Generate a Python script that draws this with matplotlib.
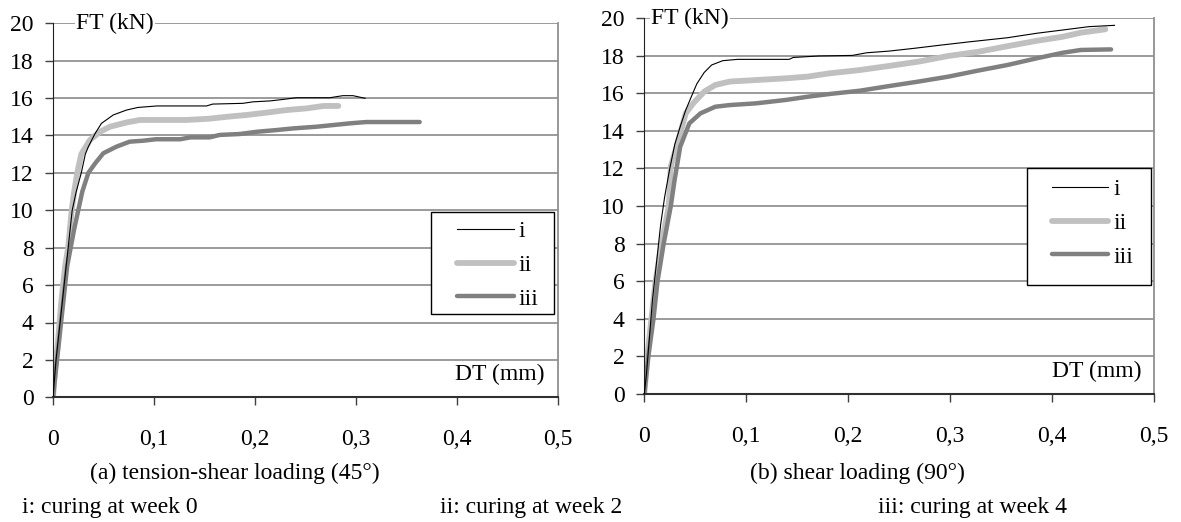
import matplotlib
matplotlib.use('Agg')

import matplotlib.pyplot as plt
from matplotlib.patches import Rectangle

plt.rcParams['font.family'] = ['Liberation Serif', 'DejaVu Serif']

# (a) tension-shear loading (45°)
a_i_x = [0, 0.003, 0.007, 0.011, 0.015, 0.019, 0.023, 0.028, 0.032, 0.035, 0.0416, 0.048, 0.0597,
         0.0727, 0.084, 0.103, 0.152, 0.158, 0.188, 0.198, 0.215, 0.228, 0.241, 0.274, 0.287, 0.297, 0.309]
a_i_y = [0, 2, 4, 6, 8, 10, 11, 12, 13, 13.4, 14.1, 14.65, 15.1,
         15.36, 15.5, 15.58, 15.58, 15.68, 15.72, 15.8, 15.85, 15.93, 16.02, 16.02, 16.13, 16.13, 15.99]
a_ii_x = [0, 0.002, 0.005, 0.008, 0.012, 0.015, 0.0185, 0.021, 0.024, 0.028, 0.0366, 0.0465, 0.0564,
          0.073, 0.086, 0.103, 0.132, 0.155, 0.172, 0.192, 0.211, 0.231, 0.251, 0.268, 0.2825]
a_ii_y = [0, 1.5, 3, 5, 7, 8, 10, 11, 12, 13, 13.76, 14.2, 14.47,
          14.7, 14.83, 14.83, 14.83, 14.9, 15.0, 15.1, 15.22, 15.36, 15.45, 15.58, 15.58]
a_iii_x = [0, 0.003, 0.006, 0.01, 0.014, 0.0175, 0.021, 0.025, 0.029, 0.035, 0.0416, 0.0498, 0.0627,
           0.0759, 0.089, 0.102, 0.126, 0.136, 0.155, 0.165, 0.185, 0.202, 0.221, 0.238, 0.261,
           0.2776, 0.294, 0.310, 0.344, 0.363]
a_iii_y = [0, 1.5, 3, 5, 7, 8, 9, 10, 11, 12, 12.5, 13.05, 13.4,
           13.67, 13.72, 13.8, 13.8, 13.9, 13.9, 14.03, 14.08, 14.2, 14.29, 14.38, 14.47,
           14.56, 14.65, 14.72, 14.72, 14.72]

# (b) shear loading (90°)
b_i_x = [0, 0.002, 0.005, 0.008, 0.012, 0.016, 0.020, 0.025, 0.030, 0.0352, 0.0406, 0.046, 0.0515,
         0.0587, 0.066, 0.0769, 0.0914, 0.142, 0.146, 0.171, 0.204, 0.218, 0.240, 0.265, 0.291,
         0.320, 0.356, 0.385, 0.410, 0.436, 0.461]
b_i_y = [0, 1, 3, 5, 7, 9, 10.5, 12, 13.3, 14.22, 15.1, 15.8, 16.5,
         17.1, 17.5, 17.73, 17.8, 17.8, 17.9, 17.98, 18.01, 18.15, 18.24, 18.39, 18.56,
         18.74, 18.95, 19.19, 19.36, 19.54, 19.61]
b_ii_x = [0, 0.003, 0.007, 0.011, 0.017, 0.024, 0.026, 0.0334, 0.0406, 0.0479, 0.0587, 0.0696, 0.084,
          0.1095, 0.1385, 0.160, 0.182, 0.211, 0.240, 0.269, 0.298, 0.327, 0.356, 0.385, 0.410,
          0.428, 0.452]
b_ii_y = [0, 2, 4, 6, 8, 10, 12.1, 13.5, 14.93, 15.46, 16.08, 16.44, 16.62,
          16.7, 16.79, 16.88, 17.06, 17.23, 17.45, 17.68, 17.98, 18.2, 18.5, 18.79, 19.0,
          19.22, 19.4]
b_iii_x = [0, 0.004, 0.009, 0.013, 0.019, 0.026, 0.0297, 0.0352, 0.0442, 0.0551, 0.0696, 0.084,
           0.1095, 0.1385, 0.160, 0.182, 0.211, 0.240, 0.269, 0.298, 0.327, 0.356, 0.385, 0.410,
           0.428, 0.4576]
b_iii_y = [0, 2, 4, 6, 8, 10, 11.38, 13.15, 14.4, 14.93, 15.28, 15.37,
           15.46, 15.64, 15.81, 15.96, 16.13, 16.38, 16.62, 16.88, 17.2, 17.5, 17.86, 18.15,
           18.3, 18.33]

x_ticks = [0, 0.1, 0.2, 0.3, 0.4, 0.5]
x_labels = ['0', '0,1', '0,2', '0,3', '0,4', '0,5']
y_ticks = [0, 2, 4, 6, 8, 10, 12, 14, 16, 18, 20]
labels = ['i', 'ii', 'iii']
captions = ['(a) tension-shear loading (45°)', '(b) shear loading (90°)']
notes = ['i: curing at week 0', 'ii: curing at week 2', 'iii: curing at week 4']

FS = 17
W, H = 1181, 522
fig = plt.figure(figsize=(W / 100, H / 100), dpi=100)


def px_axes(x0, x1, y0, y1):
    # pixel box -> figure fraction
    return [x0 / W, (H - y1) / H, (x1 - x0) / W, (y1 - y0) / H]


def setup(ax, data, ft_x, frame, leg_anchor):
    xi, yi, xii, yii, xiii, yiii = data
    ax.plot(xi, yi, color='black', lw=0.8, label=labels[0], zorder=3)
    ax.plot(xii, yii, color='#c0c0c0', lw=4.2, label=labels[1], solid_capstyle='round', zorder=2)
    ax.plot(xiii, yiii, color='#808080', lw=3.2, label=labels[2], solid_capstyle='round', zorder=2)
    ax.set_xlim(0, 0.5)
    ax.set_ylim(0, 20)
    ax.set_xticks(x_ticks)
    ax.set_xticklabels(x_labels)
    ax.set_yticks(y_ticks)
    ax.tick_params(axis='both', labelsize=FS, direction='out', length=6, width=1, color='#404040')
    ax.tick_params(axis='x', pad=17)
    ax.tick_params(axis='y', pad=8)
    ax.yaxis.grid(True, color='#808080', lw=1.1)
    ax.set_axisbelow(True)
    ax.spines['left'].set_color('#202020')
    ax.spines['bottom'].set_color('#303030')
    ax.spines['bottom'].set_linewidth(1.5)
    ax.spines['right'].set_color('#909090')
    ax.spines['right'].set_linewidth(1.3)
    ax.spines['top'].set_visible(False)
    ax.text(ft_x, 20, 'FT (kN)', fontsize=FS, ha='left', va='center',
            bbox=dict(facecolor='white', edgecolor='none', pad=1), zorder=5)
    ax.text(0.487, 1.2, 'DT (mm)', fontsize=FS, ha='right', va='center', zorder=5,
            bbox=dict(facecolor='white', edgecolor='none', pad=1))
    # legend frame drawn on its own, entries placed inside it
    x0, y0, w, h = frame
    ax.add_patch(Rectangle((x0, y0), w, h, transform=ax.transAxes, facecolor='white',
                           edgecolor='black', lw=1.0, zorder=6, clip_on=False))
    leg = ax.legend(loc='upper left', bbox_to_anchor=leg_anchor, fontsize=FS, frameon=False,
                    handlelength=2.4, handletextpad=0.2, labelspacing=0.52, borderpad=0,
                    borderaxespad=0)
    leg.set_zorder(7)


ax1 = fig.add_axes(px_axes(53, 558, 23.3, 397.3))
setup(ax1, (a_i_x, a_i_y, a_ii_x, a_ii_y, a_iii_x, a_iii_y), 0.023,
      (0.7485, 0.2227, 0.2435, 0.2728), (0.800, 0.4727))

ax2 = fig.add_axes(px_axes(644.3, 1154.3, 18, 394))
setup(ax2, (b_i_x, b_i_y, b_ii_x, b_ii_y, b_iii_x, b_iii_y), 0.007,
      (0.750, 0.29, 0.2435, 0.311), (0.799, 0.573))

fig.text(90 / W, 1 - 473 / H, captions[0], fontsize=FS, ha='left', va='center')
fig.text(750 / W, 1 - 473 / H, captions[1], fontsize=FS, ha='left', va='center')
fig.text(22 / W, 1 - 508 / H, notes[0], fontsize=FS, ha='left', va='center')
fig.text(440 / W, 1 - 508 / H, notes[1], fontsize=FS, ha='left', va='center')
fig.text(878 / W, 1 - 508 / H, notes[2], fontsize=FS, ha='left', va='center')

plt.savefig('out.png', dpi=100)
